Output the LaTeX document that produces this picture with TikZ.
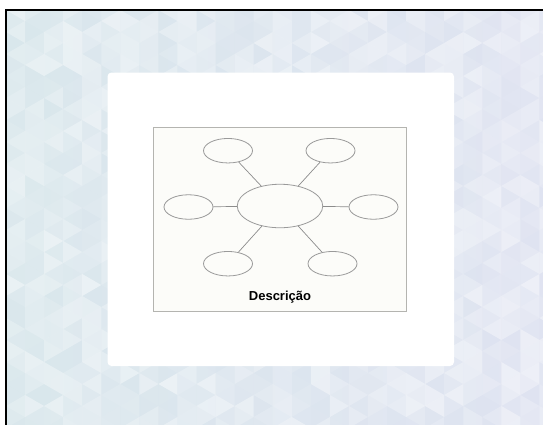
\documentclass[tikz,border=0pt]{standalone}
\usepackage{fontspec}
\setmainfont{Liberation Sans}
\usetikzlibrary{shapes.geometric}
\definecolor{bgL}{HTML}{D9E7EC}
\definecolor{bgR}{HTML}{DFE3F1}
\definecolor{panel}{HTML}{FFFFFF}
\definecolor{boxfill}{HTML}{FCFCF9}
\definecolor{boxline}{HTML}{B4B4B0}
\definecolor{ellline}{HTML}{9A9A9A}
\definecolor{conline}{HTML}{8C8C8C}
\tikzset{
  bubble/.style={ellipse, draw=ellline, line width=0.8pt, fill=boxfill, inner sep=0pt,
    minimum width=49pt, minimum height=24.5pt},
  hub/.style={bubble, minimum width=85.5pt, minimum height=43.5pt},
  link/.style={draw=conline, line width=0.7pt},
  caption/.style={font=\bfseries\fontsize{13pt}{15pt}\selectfont, text=black, inner sep=0pt}
}
\begin{document}
\begin{tikzpicture}[x=1pt,y=-1pt]
\useasboundingbox (0,0) rectangle (543,424);
\fill[white] (0,0) rectangle (543,424);
% textured background inside the frame
\begin{scope}
\clip (6,10) rectangle (543,424);
\shade[left color=bgL, right color=bgR] (6,10) rectangle (543,424);
\pgfmathsetseed{11}
\def\hh{22}
\pgfmathsetmacro\ww{\hh*0.866}
\foreach \i in {0,...,29}{
  \foreach \j in {-1,...,19}{
    \pgfmathsetmacro\xz{6+\i*\ww}
    \pgfmathsetmacro\xo{6+(\i+1)*\ww}
    \pgfmathtruncatemacro\parity{mod(\i,2)}
    \ifnum\parity=0
      \pgfmathsetmacro\xa{\xz}\pgfmathsetmacro\xb{\xo}
    \else
      \pgfmathsetmacro\xa{\xo}\pgfmathsetmacro\xb{\xz}
    \fi
    \pgfmathsetmacro\ya{10+\j*\hh}
    \pgfmathsetmacro\yb{10+(\j+1)*\hh}
    \pgfmathsetmacro\ym{10+\j*\hh+\hh/2}
    \pgfmathsetmacro\yn{10+(\j+1)*\hh+\hh/2}
    \pgfmathsetmacro\opa{0.45*rnd}
    \pgfmathsetmacro\opb{0.45*rnd}
    \fill[white, opacity=\opa] (\xa,\ya) -- (\xa,\yb) -- (\xb,\ym) -- cycle;
    \fill[white, opacity=\opb] (\xb,\ym) -- (\xb,\yn) -- (\xa,\yb) -- cycle;
  }
}
\end{scope}
\draw[black, line width=1.5pt] (6,10) rectangle (560,440);
% white panel
\fill[panel, rounded corners=4pt] (107.5,72.5) rectangle (454,366);
% inner box
\draw[boxline, fill=boxfill, line width=0.8pt] (153,127.3) rectangle (406.3,311.3);
% ellipses
\node[hub] (c) at (280,206) {};
\node[bubble] (tl) at (228,150.7) {};
\node[bubble] (tr) at (330.5,150.7) {};
\node[bubble] (l) at (188.5,207) {};
\node[bubble] (r) at (373.5,207) {};
\node[bubble] (bl) at (228,263.7) {};
\node[bubble] (br) at (332.5,263.7) {};
\foreach \n in {tl,tr,l,r,bl,br}{\path[link] (c) -- (\n);}
\node[caption] (cap) at (280,297.3) {Descrição};
\end{tikzpicture}
\end{document}
